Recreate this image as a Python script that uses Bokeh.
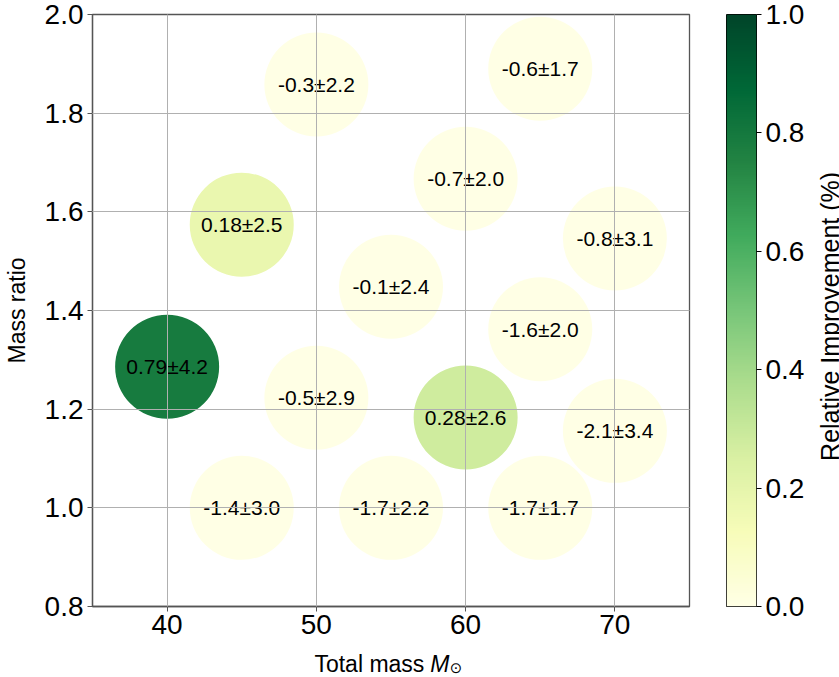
import math
import numpy as np
from bokeh.plotting import figure
from bokeh.models import (ColumnDataSource, LinearColorMapper, FixedTicker, Range1d,
                          PrintfTickFormatter)
from bokeh.layouts import row, column
from bokeh.core.properties import value
from bokeh.embed import file_html
from bokeh.resources import INLINE

# ---- data ----
total_mass = [50, 65, 45, 60, 70, 55, 65, 40, 50, 60, 70, 45, 55, 65]
mass_ratio = [1.858, 1.89, 1.574, 1.667, 1.546, 1.448, 1.362, 1.286, 1.223, 1.183, 1.156, 1.0, 1.0, 1.0]
improvement = [-0.3, -0.6, 0.18, -0.7, -0.8, -0.1, -1.6, 0.79, -0.5, 0.28, -2.1, -1.4, -1.7, -1.7]
uncertainty = [2.2, 1.7, 2.5, 2.0, 3.1, 2.4, 2.0, 4.2, 2.9, 2.6, 3.4, 3.0, 2.2, 1.7]
x_ticks = [40, 50, 60, 70]
y_ticks = [0.8, 1.0, 1.2, 1.4, 1.6, 1.8, 2.0]
cb_ticks = [0.0, 0.2, 0.4, 0.6, 0.8, 1.0]
x_title = ["Total mass", "M", "\u2299"]
y_title = "Mass ratio"
cb_title = "Relative Improvement (%)"

labels = [f"{v}\u00b1{e}" for v, e in zip(improvement, uncertainty)]

# YlGn colormap (colorbrewer 9) interpolated to 256 steps
ylgn9 = ['#ffffe5', '#f7fcb9', '#d9f0a3', '#addd8e', '#78c679',
         '#41ab5d', '#238443', '#006837', '#004529']
def _rgb(h):
    return [int(h[i:i + 2], 16) for i in (1, 3, 5)]
_anch = np.array([_rgb(c) for c in ylgn9], dtype=float)
_pos = np.linspace(0, 1, len(ylgn9))
palette = []
for t in np.linspace(0, 1, 256):
    r, g, b = (np.interp(t, _pos, _anch[:, k]) for k in range(3))
    palette.append("#%02x%02x%02x" % (int(round(r)), int(round(g)), int(round(b))))

mapper = LinearColorMapper(palette=palette, low=0.0, high=1.0)

src = ColumnDataSource(dict(x=total_mass, y=mass_ratio, v=improvement, lab=labels))

FONT = "Liberation Sans"
TICK_SIZE = "28px"
LABEL_SIZE = "23px"
AXIS_COL = "#555555"
TOP, BOTTOM = 14, 40

def bare(fig):
    fig.grid.visible = False
    fig.outline_line_color = None
    return fig

# ---- main plot ----
p = figure(frame_width=597, frame_height=592,
           x_range=Range1d(35, 75), y_range=Range1d(0.8, 2.0),
           output_backend="svg", toolbar_location=None,
           min_border_left=91, min_border_right=20,
           min_border_top=TOP, min_border_bottom=BOTTOM)

p.scatter("x", "y", source=src, size=104, line_color=None,
          fill_color={"field": "v", "transform": mapper})
p.text("x", "y", text="lab", source=src, text_align="center",
       text_baseline="middle", text_font=value(FONT),
       text_font_size="21px", text_color="black")

p.xaxis.ticker = FixedTicker(ticks=x_ticks)
p.yaxis.ticker = FixedTicker(ticks=y_ticks)
p.yaxis.formatter = PrintfTickFormatter(format="%.1f")

for ax in (p.xaxis[0], p.yaxis[0]):
    ax.major_label_text_font = FONT
    ax.major_label_text_font_size = TICK_SIZE
    ax.major_label_text_color = "black"
    ax.axis_label_text_font = FONT
    ax.axis_label_text_font_size = LABEL_SIZE
    ax.axis_label_text_font_style = "normal"
    ax.axis_label_text_color = "black"
    ax.minor_tick_line_color = None
    ax.major_tick_in = 0
    ax.major_tick_out = 5
    ax.major_tick_line_color = AXIS_COL
    ax.axis_line_color = AXIS_COL
    ax.axis_line_width = 1.3
    ax.major_label_standoff = 4

p.xaxis.major_label_standoff = 3
p.xaxis.major_label_text_line_height = 1.0
p.yaxis.axis_label = y_title
p.yaxis.axis_label_standoff = 12

p.outline_line_color = AXIS_COL
p.outline_line_width = 1.3
p.xgrid.ticker = FixedTicker(ticks=x_ticks)
p.ygrid.ticker = FixedTicker(ticks=y_ticks)
for g in (p.xgrid[0], p.ygrid[0]):
    g.grid_line_color = "#b0b0b0"
    g.grid_line_width = 1
    g.level = "annotation"

# ---- colorbar as its own figure ----
cb = figure(frame_width=30, frame_height=592,
            x_range=Range1d(0, 1), y_range=Range1d(0, 1),
            output_backend="svg", toolbar_location=None,
            x_axis_location=None, y_axis_location="right",
            min_border_left=17, min_border_right=0,
            min_border_top=TOP, min_border_bottom=BOTTOM)
grad = np.linspace(0, 1, 256).reshape(256, 1)
cb.image(image=[grad], x=0, y=0, dw=1, dh=1, color_mapper=mapper)
cb.grid.visible = False
cb.outline_line_color = "black"
cb.outline_line_width = 1
ya = cb.yaxis[0]
ya.ticker = FixedTicker(ticks=cb_ticks)
ya.formatter = PrintfTickFormatter(format="%.1f")
ya.major_label_text_font = FONT
ya.major_label_text_font_size = TICK_SIZE
ya.major_label_text_color = "black"
ya.minor_tick_line_color = None
ya.major_tick_in = 0
ya.major_tick_out = 5
ya.major_tick_line_color = "black"
ya.axis_line_color = None
ya.major_label_standoff = 4

# ---- colorbar title strip ----
tf = bare(figure(frame_width=34, frame_height=592,
                 x_range=Range1d(0, 1), y_range=Range1d(0, 1),
                 output_backend="svg", toolbar_location=None,
                 x_axis_location=None, y_axis_location=None,
                 min_border_left=0, min_border_right=0,
                 min_border_top=TOP, min_border_bottom=BOTTOM))
tf.text(x=[0.66], y=[0.49], text=[cb_title], angle=math.pi / 2,
        text_align="center", text_baseline="middle",
        text_font=value(FONT), text_font_size="25px", text_color="black")

# ---- x-axis title strip ----
xl = bare(figure(frame_width=597, frame_height=28,
                 x_range=Range1d(35, 75), y_range=Range1d(0, 1),
                 output_backend="svg", toolbar_location=None,
                 x_axis_location=None, y_axis_location=None,
                 min_border_left=91, min_border_right=20,
                 min_border_top=0, min_border_bottom=0))
xl.text(x=[57.3], y=[0.36], text=[x_title[0]], text_align="right",
        text_baseline="alphabetic", text_font=value(FONT),
        text_font_size=LABEL_SIZE, text_color="black")
xl.text(x=[57.7], y=[0.36], text=[x_title[1]], text_align="left",
        text_baseline="alphabetic", text_font=value(FONT), text_font_style="italic",
        text_font_size=LABEL_SIZE, text_color="black")
xl.text(x=[59.0], y=[0.25], text=[x_title[2]], text_align="left",
        text_baseline="alphabetic", text_font=value("DejaVu Sans"),
        text_font_size="15px", text_color="black")

layout = column(row(p, cb, tf), xl)
open("out.html", "w").write(file_html(layout, INLINE))
